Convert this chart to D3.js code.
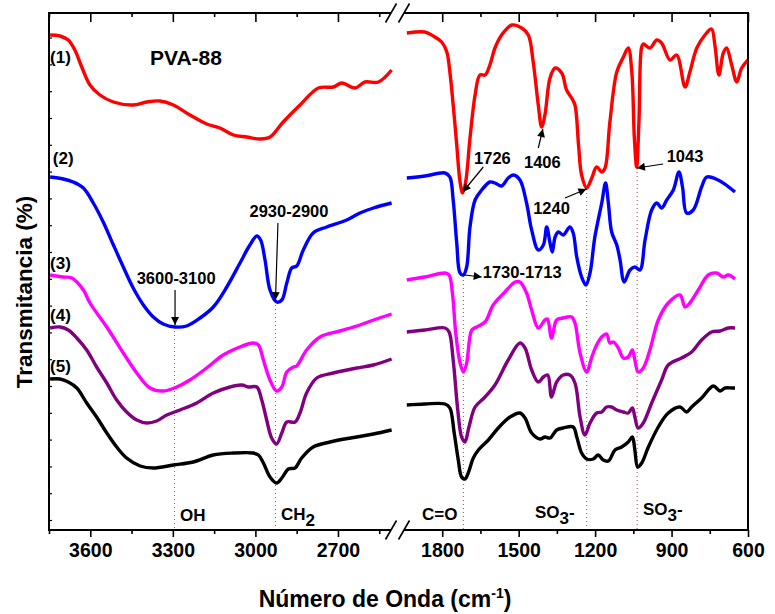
<!DOCTYPE html>
<html><head><meta charset="utf-8">
<script src="https://cdn.jsdelivr.net/npm/d3@7"></script>
<style>
body{margin:0;background:#fff;}
svg{display:block;font-family:Arial,"Liberation Sans",Helvetica,sans-serif;font-weight:bold;}
</style>
</head><body><svg id="c" width="775" height="614"></svg>
<script>
// ---- tick values ----
const leftMajor = [3600, 3300, 3000, 2700];
const leftMinor = [3750, 3450, 3150, 2850, 2550];
const rightMajor = [1800, 1500, 1200, 900, 600];
const rightMinor = [1650, 1350, 1050, 750];
const yTicks = d3.range(10, 517, 26.8);

// ---- spectra: [wavenumber cm-1, transmittance (a.u., offset)] ----
// high wavenumber region (3750-2500)
const s1_high = [[3746,495],[3710,494],[3680,490],[3656,480],[3631,463],[3601,445],[3565,435],[3516,428],[3444,425],[3395,428],[3347,429],[3298,425],[3238,415],[3177,406],[3129,402],[3080,395],[3032,393],[2983,391],[2947,393],[2899,408],[2838,425],[2771,442],[2717,443],[2686,447],[2638,442],[2602,448],[2553,448],[2505,460]];
const s2_high = [[3746,353],[3698,351],[3662,348],[3625,342],[3589,327],[3553,308],[3516,285],[3480,263],[3444,242],[3407,225],[3371,213],[3335,206],[3292,203],[3250,204],[3201,212],[3153,223],[3104,243],[3056,267],[3020,285],[2995,294],[2981,290],[2965,270],[2947,240],[2923,228],[2904,230],[2886,247],[2868,262],[2850,264],[2826,280],[2790,297],[2741,303],[2668,310],[2620,317],[2571,322],[2505,327]];
const s3_high = [[3746,255],[3698,253],[3667,252],[3625,240],[3601,227],[3540,203],[3480,177],[3431,157],[3383,142],[3335,139],[3286,143],[3238,150],[3177,162],[3117,175],[3056,183],[3008,187],[2989,185],[2971,170],[2947,150],[2923,139],[2904,143],[2886,158],[2862,163],[2850,164],[2814,180],[2765,193],[2693,199],[2620,205],[2571,210],[2505,216]];
const s4_high = [[3746,202],[3710,203],[3680,200],[3649,192],[3613,180],[3577,163],[3540,147],[3504,130],[3468,118],[3431,110],[3395,107],[3359,109],[3322,115],[3274,120],[3213,127],[3153,137],[3092,143],[3050,145],[3026,143],[2995,143],[2977,130],[2959,110],[2941,92],[2923,86],[2904,97],[2886,108],[2856,108],[2838,117],[2814,137],[2777,152],[2717,157],[2632,162],[2571,165],[2505,171]];
const s5_high = [[3746,151],[3710,151],[3680,148],[3649,142],[3613,127],[3577,113],[3540,97],[3504,83],[3468,72],[3419,64],[3371,62],[3298,65],[3226,68],[3153,75],[3080,77],[3008,77],[2989,75],[2971,67],[2947,53],[2923,47],[2904,52],[2880,61],[2856,62],[2832,72],[2790,83],[2729,88],[2632,93],[2571,96],[2505,100]];
// fingerprint region (1950-600)
const s1_low = [[1939,497],[1868,498],[1835,494],[1802,488],[1782,478],[1770,458],[1757,425],[1743,385],[1730,348],[1720,337],[1708,348],[1691,392],[1671,435],[1652,455],[1632,455],[1613,465],[1593,482],[1567,495],[1527,505],[1488,502],[1462,495],[1443,468],[1423,425],[1410,403],[1397,415],[1377,452],[1357,462],[1331,457],[1312,440],[1292,432],[1279,425],[1265,385],[1253,355],[1233,342],[1213,352],[1194,363],[1174,358],[1161,362],[1142,408],[1115,458],[1089,473],[1070,482],[1056,458],[1046,392],[1037,363],[1028,408],[1018,482],[1011,486],[985,482],[958,490],[939,487],[906,470],[880,475],[847,443],[828,458],[801,482],[769,495],[743,501],[730,485],[714,455],[697,477],[684,482],[664,465],[644,448],[625,462],[600,470]];
const s2_low = [[1939,352],[1868,354],[1789,357],[1770,353],[1757,330],[1743,287],[1730,257],[1717,255],[1704,263],[1691,303],[1671,330],[1645,340],[1613,348],[1593,347],[1567,344],[1541,352],[1521,355],[1495,350],[1469,327],[1449,300],[1423,280],[1403,285],[1390,303],[1377,287],[1368,278],[1357,293],[1344,298],[1325,295],[1299,303],[1286,297],[1272,273],[1253,253],[1236,245],[1220,257],[1201,293],[1174,327],[1159,347],[1148,327],[1135,298],[1115,285],[1102,270],[1086,248],[1063,260],[1044,263],[1024,260],[1004,290],[978,320],[958,327],[939,322],[919,330],[893,340],[871,358],[857,343],[841,317],[815,320],[782,343],[762,353],[717,350],[651,338]];
const s3_low = [[1939,250],[1868,253],[1789,257],[1773,255],[1760,237],[1747,197],[1730,167],[1717,158],[1704,167],[1684,200],[1665,203],[1632,208],[1600,225],[1554,238],[1514,248],[1495,248],[1469,237],[1449,220],[1423,202],[1397,210],[1387,211],[1371,192],[1351,210],[1325,212],[1292,213],[1279,207],[1259,177],[1233,158],[1213,173],[1194,185],[1174,193],[1155,196],[1142,187],[1128,188],[1109,182],[1089,172],[1070,173],[1054,180],[1044,170],[1031,158],[1011,162],[985,180],[952,210],[913,227],[867,235],[847,223],[828,227],[795,240],[756,255],[723,257],[697,253],[677,255],[651,251]];
const s4_low = [[1939,198],[1868,200],[1789,202],[1773,198],[1757,170],[1739,120],[1724,93],[1711,88],[1695,103],[1671,123],[1632,133],[1593,145],[1541,170],[1495,187],[1475,182],[1449,160],[1423,148],[1403,153],[1386,155],[1371,133],[1351,148],[1325,155],[1299,155],[1279,147],[1259,113],[1240,95],[1220,107],[1194,117],[1174,118],[1155,123],[1135,123],[1115,120],[1089,118],[1070,117],[1054,122],[1044,113],[1031,102],[1011,107],[978,127],[939,150],[913,165],[861,172],[821,178],[782,190],[743,198],[710,199],[677,202],[651,202]];
const s5_low = [[1939,125],[1868,126],[1789,126],[1770,122],[1753,97],[1737,70],[1724,53],[1711,51],[1698,57],[1678,72],[1658,80],[1619,90],[1580,102],[1534,113],[1495,117],[1475,112],[1449,97],[1416,91],[1397,93],[1377,92],[1351,100],[1325,102],[1286,103],[1272,93],[1253,77],[1233,71],[1207,71],[1188,75],[1168,70],[1148,69],[1122,80],[1096,83],[1070,88],[1054,93],[1044,80],[1033,63],[1017,67],[991,83],[952,103],[913,117],[867,123],[841,118],[821,123],[782,132],[736,144],[710,139],[690,142],[664,142],[651,142]];

const seriesNames = ["(1)","(2)","(3)","(4)","(5)"];
const seriesColors = ["#ff0000","#0000ff","#ff00ff","#800080","#000000"];
const highData = [s1_high, s2_high, s3_high, s4_high, s5_high];
const lowData = [s1_low, s2_low, s3_low, s4_low, s5_low];
const labelLevels = [467, 366, 261, 209, 158];

// band markers (dotted lines): [panel, wavenumber, top value]
const bandLines = [["L",3294,203],["L",2927,229],["R",1717,254],["R",1233,341],["R",1035,362]];

// ---- layout ----
const svg = d3.select("#c");
const xL = d3.scaleLinear().domain([3750, 2500]).range([49, 393]);
const xR = d3.scaleLinear().domain([1950, 600]).range([404, 748]);
const y = d3.scaleLinear().domain([0, 517]).range([530, 13]);
const X = p => p === "L" ? xL : xR;

svg.append("defs").append("marker")
  .attr("id","arr").attr("viewBox","0 0 10 10").attr("refX",10).attr("refY",5)
  .attr("markerWidth",11).attr("markerHeight",8).attr("markerUnits","userSpaceOnUse")
  .attr("orient","auto")
  .append("path").attr("d","M0,0 L10,5 L0,10 z").attr("fill","#000");

bandLines.forEach(([p, w, v]) => {
  svg.append("line").attr("x1", X(p)(w)).attr("x2", X(p)(w))
    .attr("y1", y(v)).attr("y2", y(0))
    .attr("stroke","#c0504d").attr("stroke-width",1.1).attr("stroke-dasharray","1,3");
});

const lineL = d3.line().x(d => xL(d[0])).y(d => y(d[1])).curve(d3.curveCatmullRom.alpha(0.5));
const lineR = d3.line().x(d => xR(d[0])).y(d => y(d[1])).curve(d3.curveCatmullRom.alpha(0.5));
for (let i = 4; i >= 0; i--) {
  svg.append("path").attr("d", lineL(highData[i])).attr("fill","none")
    .attr("stroke", seriesColors[i]).attr("stroke-width",3.4).attr("stroke-linejoin","round");
  svg.append("path").attr("d", lineR(lowData[i])).attr("fill","none")
    .attr("stroke", seriesColors[i]).attr("stroke-width",3.4).attr("stroke-linejoin","round");
}

const axG = svg.append("g");
function drawAxis(scale, maj, min, x0, x1) {
  const b = axG.append("g").attr("transform","translate(0,530)")
    .call(d3.axisBottom(scale).tickValues(maj).tickSize(7).tickPadding(6).tickFormat(d3.format("d")));
  b.select(".domain").remove();
  b.selectAll("line").attr("stroke","#000").attr("stroke-width",1.6);
  b.selectAll("text").attr("font-size",19.5).attr("font-weight","bold").attr("fill","#000")
    .attr("font-family","Arial, Liberation Sans, sans-serif");
  const bm = axG.append("g").attr("transform","translate(0,530)")
    .call(d3.axisBottom(scale).tickValues(min).tickSize(4).tickFormat(""));
  bm.select(".domain").remove();
  bm.selectAll("line").attr("stroke","#000").attr("stroke-width",1.6);
  const t = axG.append("g").attr("transform","translate(0,13)")
    .call(d3.axisTop(scale).tickValues(maj).tickSize(-9).tickFormat(""));
  t.select(".domain").remove();
  t.selectAll("line").attr("stroke","#000").attr("stroke-width",1.6);
  const tm = axG.append("g").attr("transform","translate(0,13)")
    .call(d3.axisTop(scale).tickValues(min).tickSize(-4).tickFormat(""));
  tm.select(".domain").remove();
  tm.selectAll("line").attr("stroke","#000").attr("stroke-width",1.6);
  [13, 530].forEach(yy => axG.append("line").attr("x1",x0).attr("x2",x1).attr("y1",yy).attr("y2",yy)
    .attr("stroke","#000").attr("stroke-width",2));
}
drawAxis(xL, leftMajor, leftMinor, 48, 391);
drawAxis(xR, rightMajor, rightMinor, 404, 749);
axG.append("line").attr("x1",49).attr("x2",49).attr("y1",12).attr("y2",531).attr("stroke","#000").attr("stroke-width",2);
axG.append("line").attr("x1",748).attr("x2",748).attr("y1",12).attr("y2",531).attr("stroke","#000").attr("stroke-width",2);
const ly = axG.append("g").attr("transform","translate(49,0)")
  .call(d3.axisLeft(y).tickValues(yTicks).tickSize(-3).tickFormat(""));
ly.select(".domain").remove();
ly.selectAll("line").attr("stroke","#000").attr("stroke-width",1.2);

[13, 530].forEach(yy => {
  [391, 404].forEach(xx => {
    axG.append("line").attr("x1", xx-5.5).attr("y1", yy+9.5).attr("x2", xx+5.5).attr("y2", yy-9.5)
      .attr("stroke","#000").attr("stroke-width",1.6);
  });
});

svg.append("text").attr("x", 385).attr("y", 607).attr("text-anchor","middle")
  .attr("font-size",23).attr("fill","#000")
  .html('Número de Onda (cm<tspan dy="-9" font-size="14">-1</tspan><tspan dy="9">)</tspan>');
svg.append("text").attr("transform","translate(32,292) rotate(-90)").attr("text-anchor","middle")
  .attr("font-size",22.5).attr("fill","#000").text("Transmitancia (%)");

seriesNames.forEach((n, i) => {
  svg.append("text").attr("x", xL(i === 1 ? 3736 : 3746)).attr("y", y(labelLevels[i]))
    .attr("font-size",17).attr("fill","#000").text(n);
});
svg.append("text").attr("x", xL(3383)).attr("y", y(465)).attr("font-size",21).attr("fill","#000").text("PVA-88");

const annotations = [
  {t:"3600-3100", p:"L", tx:3288, ty:246, a:"middle", x1:3292, y1:240, x2:3292, y2:205},
  {t:"2930-2900", p:"L", tx:2878, ty:313, a:"middle", x1:2918, y1:307, x2:2927, y2:230},
  {t:"1726", p:"R", tx:1603, ty:366, a:"middle", x1:1639, y1:363, x2:1719, y2:338},
  {t:"1406", p:"R", tx:1407, ty:362, a:"middle", x1:1423, y1:382, x2:1405, y2:401},
  {t:"1043", p:"R", tx:847, ty:368, a:"middle", x1:933, y1:366, x2:1036, y2:362},
  {t:"1240", p:"R", tx:1371, ty:316, a:"middle", x1:1318, y1:332, x2:1234, y2:341},
  {t:"1730-1713", p:"R", tx:1641, ty:252, a:"start", x1:1712, y1:255, x2:1645, y2:253}
];
annotations.forEach(d => {
  const s = X(d.p);
  svg.append("line").attr("x1", s(d.x1)).attr("y1", y(d.y1)).attr("x2", s(d.x2)).attr("y2", y(d.y2))
    .attr("stroke","#000").attr("stroke-width",1.2).attr("marker-end","url(#arr)");
  svg.append("text").attr("x", s(d.tx)).attr("y", y(d.ty)).attr("text-anchor", d.a)
    .attr("font-size",16.5).attr("fill","#000").text(d.t);
});

const bandLabels = [
  {p:"L", w:3274, v:9, main:"OH", sub:"", tail:""},
  {p:"L", w:2907, v:10, main:"CH", sub:"2", tail:""},
  {p:"R", w:1879, v:10, main:"C=O", sub:"", tail:""},
  {p:"R", w:1436, v:12, main:"SO", sub:"3", tail:"-"},
  {p:"R", w:1012, v:15, main:"SO", sub:"3", tail:"-"}
];
bandLabels.forEach(d => {
  const t = svg.append("text").attr("x", X(d.p)(d.w)).attr("y", y(d.v)).attr("font-size",17).attr("fill","#000");
  t.append("tspan").text(d.main);
  if (d.sub) t.append("tspan").attr("dy",6).text(d.sub);
  if (d.tail) t.append("tspan").attr("dy",-6).text(d.tail);
});
</script></body></html>
